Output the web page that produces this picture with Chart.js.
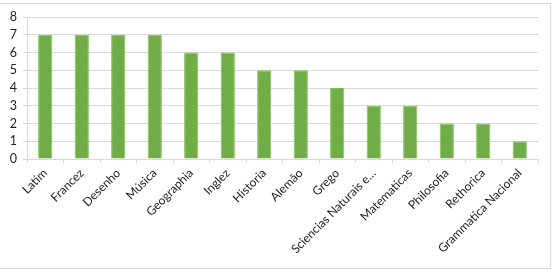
<!DOCTYPE html>
<html lang="pt">
<head>
  <meta charset="UTF-8">
  <title>Disciplinas</title>
  <script src="https://cdn.jsdelivr.net/npm/chart.js"></script>
  <style>
    body {
      margin: 0;
      background: #fff;
      overflow: hidden;
    }

    .frame {
      position: absolute;
      left: -1px;
      top: 3px;
      width: 550px;
      height: 264px;
      border: 1px solid #d9d9d9;
    }

    canvas {
      position: absolute;
      left: 0;
      top: 0;
    }
  </style>
</head>
<body>

  <div class="frame"></div>
  <canvas id="subjectChart" width="553" height="274"></canvas>

  <script>
    const subjects = ['Latim', 'Francez', 'Desenho', 'Música', 'Geographia', 'Inglez', 'Historia',
      'Alemão', 'Grego', 'Sciencias Naturais e…', 'Matematicas', 'Philosofia', 'Rethorica',
      'Grammatica Nacional'];
    const counts = [7, 7, 7, 7, 6, 6, 5, 5, 4, 3, 3, 2, 2, 1];
    const yMin = 0;
    const yMax = 8;

    const ctx = document.getElementById('subjectChart').getContext('2d');

    const chart = new Chart(ctx, {
      type: 'bar',
      data: {
        labels: subjects,
        datasets: [{
          data: counts,
          backgroundColor: '#70ad47',
          borderColor: '#7fbf55',
          borderWidth: 1,
          categoryPercentage: 1,
          barPercentage: 0.39
        }]
      },
      options: {
        responsive: false,
        animation: false,
        layout: {
          padding: { top: 17, right: 15, left: 0, bottom: 0 }
        },
        plugins: {
          legend: { display: false },
          tooltip: { enabled: false }
        },
        scales: {
          y: {
            min: yMin,
            max: yMax,
            ticks: {
              stepSize: 1,
              autoSkip: false,
              color: '#1e1e1e',
              font: { family: 'Lato', size: 12.5 },
              padding: 6
            },
            grid: { color: '#d9d9d9', tickLength: 4 },
            border: { color: '#d9d9d9' },
            afterFit: (scale) => { scale.width = 27; }
          },
          x: {
            ticks: {
              color: '#1e1e1e',
              font: { family: 'Lato', size: 12 },
              minRotation: 45,
              maxRotation: 45,
              autoSkip: false,
              padding: 3
            },
            grid: { drawOnChartArea: false, color: '#d9d9d9', tickLength: 4 },
            border: { color: '#d9d9d9' },
            afterFit: (scale) => { scale.height = 115; }
          }
        }
      }
    });
  </script>
</body>
</html>
